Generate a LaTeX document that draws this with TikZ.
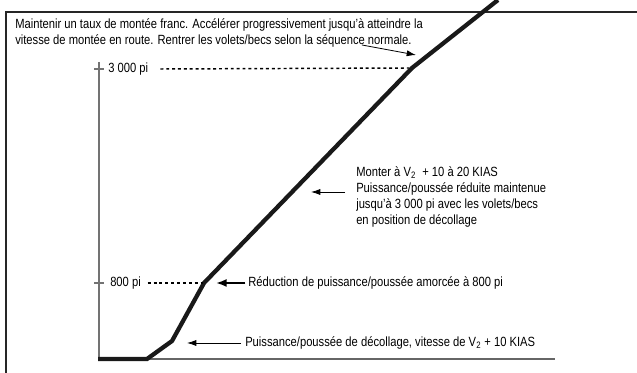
\documentclass[tikz,border=0pt]{standalone}
\usepackage{fontspec}
\setmainfont{Liberation Sans}[FakeStretch=0.84]
\usepackage{tikz}
\usetikzlibrary{arrows.meta}
\usetikzlibrary{positioning}

\begin{document}
\begin{tikzpicture}[%
>={Latex[length=7pt,width=4.6pt]}, x=0.75pt, y=-0.75pt,
lbl/.style={anchor=west, inner sep=0pt, font=\fontsize{10}{12.6}\selectfont, align=left},
profile/.style={draw=black!90, line width=3.2pt, line join=miter},
axis/.style={draw=black!55, line width=1.1pt},
ground/.style={draw=black!60, line width=0.8pt},
dots/.style={draw=black, line width=1.1pt, dash pattern=on 2.2pt off 2.2pt},
pointer/.style={draw=black, line width=0.6pt, ->}
]
\useasboundingbox (0,0) rectangle (637,373);
\draw[line width=1.1pt, black!85] (6,373) -- (6,12) -- (637,12);

\coordinate (start) at (98,359);
\coordinate (lift) at (147,359);
\coordinate (k1) at (172,341);
\coordinate (k800) at (204,283);
\coordinate (k3000) at (412,68);
\coordinate (top) at (498,0);

\draw[axis] (99,62) -- (99,359);
\draw[axis] (94,69) -- (104,69);
\draw[axis] (94,283) -- (104,283);
\draw[ground] (lift) -- (555,359);
\draw[profile] (start) -- (lift) -- (k1) -- (k800) -- (k3000) -- (top);

\node[lbl] (note) at (15,33) {Maintenir un taux de montée franc. Accélérer progressivement jusqu'à atteindre la\\
vitesse de montée en route. Rentrer les volets/becs selon la séquence normale.};
\node[lbl] (alt3000) at (108,69) {3 000 pi};
\node[lbl] (alt800) at (110,283) {800 pi};
\node[lbl, anchor=north west, font=\fontsize{10}{12.2}\selectfont] (climb) at (356,166) {Monter à V\textsubscript{2}~ + 10 à 20 KIAS\\
Puissance/poussée réduite maintenue\\
jusqu'à 3 000 pi avec les volets/becs\\
en position de décollage};
\node[lbl] (reduce) at (248,283) {Réduction de puissance/poussée amorcée à 800 pi};
\node[lbl] (takeoff) at (245,343) {Puissance/poussée de décollage, vitesse de V\textsubscript{2} + 10 KIAS};

\coordinate (noteend) at (362,45);
\coordinate (notetip) at (416,55);
\coordinate (climbtip) at (311,192);
\coordinate (reducetip) at (216,283);
\coordinate (takeofftip) at (187,343);

\draw[dots] ([xshift=9pt]alt3000.east) -- ([xshift=-2pt]k3000);
\draw[dots] ([xshift=5pt]alt800.east) -- ([xshift=-1pt]k800);
\draw[pointer] (noteend) -- (notetip);
\draw[pointer] (climb.west |- climbtip) ++(-11,0) -- (climbtip);
\draw[pointer, line width=1.4pt, >={Latex[length=8pt,width=6pt]}] ([xshift=-2pt]reduce.west) -- (reducetip);
\draw[pointer] ([xshift=-3pt]takeoff.west) -- (takeofftip);
\end{tikzpicture}
\end{document}
